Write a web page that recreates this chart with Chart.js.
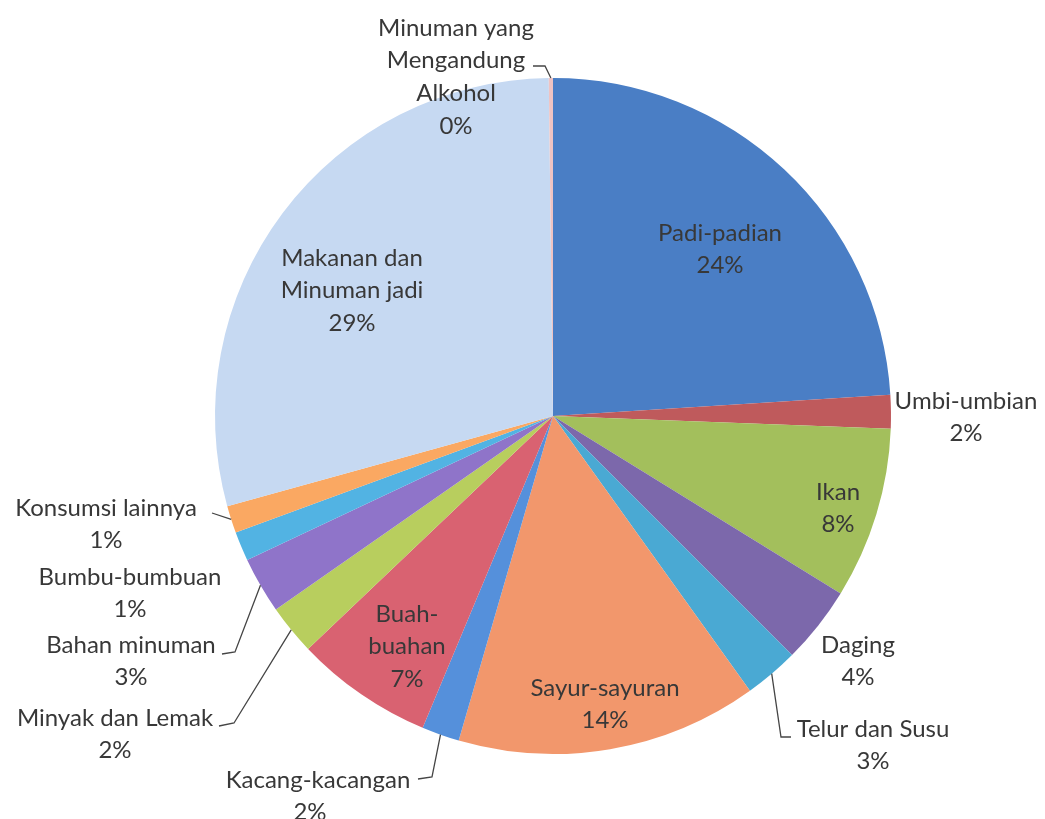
<!DOCTYPE html>
<html>
<head>
<meta charset="utf-8">
<script src="https://cdn.jsdelivr.net/npm/chart.js@4.4.1/dist/chart.umd.min.js"></script>
<style>
  html, body { margin: 0; padding: 0; background: #fff; }
  #wrap { width: 1045px; height: 819px; }
</style>
</head>
<body>
<div id="wrap"><canvas id="pieChart" width="1045" height="819"></canvas></div>
<script>
// Kategori pengeluaran (mulai dari jam 12, searah jarum jam)
const kategori = [
    'Padi-padian', 'Umbi-umbian', 'Ikan', 'Daging', 'Telur dan Susu',
    'Sayur-sayuran', 'Kacang-kacangan', ['Buah-', 'buahan'], 'Minyak dan Lemak',
    'Bahan minuman', 'Bumbu-bumbuan', 'Konsumsi lainnya',
    ['Makanan dan', 'Minuman jadi'], ['Minuman yang', 'Mengandung', 'Alkohol']
];
const persen = [24.0, 1.6, 8.2, 3.7, 2.6, 14.4, 1.8, 6.6, 2.4, 2.7, 1.4, 1.3, 29.1, 0.2];
const warna = [
    '#4a7ec5', '#bf5a5c', '#a3bf5c', '#7c68ab', '#4aa9d3',
    '#f2976c', '#5590db', '#d96271', '#b8ce5e', '#8f74c9',
    '#52b3e3', '#faa862', '#c6d9f2', '#efc3c3'
];

// posisi label (tengah baris pertama) dan garis penunjuk
const posLabel = [
    { x: 720, y: 233 },
    { x: 966, y: 401 },
    { x: 838, y: 492 },
    { x: 858, y: 645 },
    { x: 873, y: 729, garis: [[781, 737], [791, 737]] },
    { x: 605, y: 688 },
    { x: 318, y: 780, geserPersen: -8, garis: [[432, 777], [418, 779]] },
    { x: 407, y: 614 },
    { x: 115, y: 718, garis: [[234, 723], [219, 726]] },
    { x: 131, y: 645, garis: [[235, 652], [222, 654]] },
    { x: 130, y: 577 },
    { x: 106, y: 508, garis: [[212, 513]] },
    { x: 352, y: 258 },
    { x: 456, y: 28, garis: [[545, 66], [533, 66]] }
];

const labelPlugin = {
    id: 'labelPie',
    afterDatasetsDraw(chart) {
        const ctx = chart.ctx;
        const meta = chart.getDatasetMeta(0);
        const data = chart.data.datasets[0].data;
        const total = data.reduce((a, b) => a + b, 0);
        ctx.save();
        ctx.fillStyle = '#383838';
        ctx.strokeStyle = '#454545';
        ctx.lineWidth = 1.3;
        ctx.font = '24px Lato, "Open Sans", sans-serif';
        ctx.textAlign = 'center';
        ctx.textBaseline = 'middle';
        const lh = 32.7;

        meta.data.forEach((arc, i) => {
            const p = posLabel[i];
            const nama = chart.data.labels[i];
            const baris = Array.isArray(nama) ? nama.slice() : [nama];
            const pct = Math.round(data[i] / total * 100) + '%';

            baris.forEach((t, k) => ctx.fillText(t, p.x, p.y + k * lh));
            ctx.fillText(pct, p.x + (p.geserPersen || 0), p.y + baris.length * lh);

            if (p.garis) {
                const mid = (arc.startAngle + arc.endAngle) / 2;
                const r = arc.outerRadius;
                ctx.beginPath();
                ctx.moveTo(arc.x + Math.cos(mid) * r, arc.y + Math.sin(mid) * r);
                p.garis.forEach(pt => ctx.lineTo(pt[0], pt[1]));
                ctx.stroke();
            }
        });
        ctx.restore();
    }
};

const ctx = document.getElementById('pieChart').getContext('2d');
new Chart(ctx, {
    type: 'pie',
    data: {
        labels: kategori,
        datasets: [{
            data: persen,
            backgroundColor: warna,
            borderWidth: 0
        }]
    },
    options: {
        responsive: false,
        animation: false,
        layout: { padding: { top: 78, bottom: 65, left: 215, right: 154 } },
        plugins: {
            legend: { display: false },
            tooltip: { enabled: false }
        }
    },
    plugins: [labelPlugin]
});
</script>
</body>
</html>
